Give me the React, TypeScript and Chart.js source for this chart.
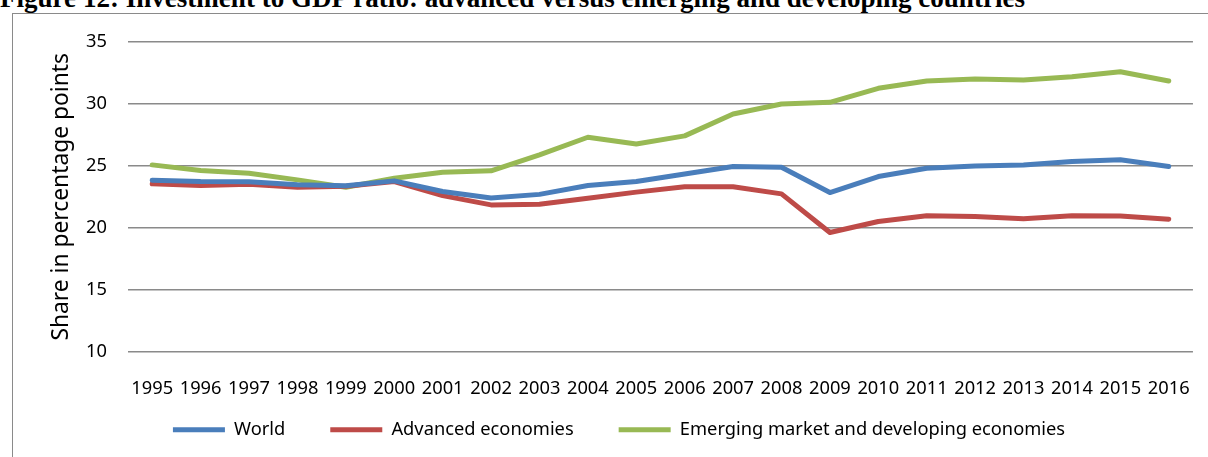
import React, { useEffect, useRef } from "react";
import { Chart, registerables } from "chart.js";

Chart.register(...registerables);

const years = [
  "1995", "1996", "1997", "1998", "1999", "2000", "2001", "2002", "2003", "2004", "2005",
  "2006", "2007", "2008", "2009", "2010", "2011", "2012", "2013", "2014", "2015", "2016",
];

const world = [
  23.85, 23.74, 23.72, 23.47, 23.4, 23.79, 22.93, 22.4, 22.7, 23.41, 23.74,
  24.35, 24.95, 24.89, 22.85, 24.14, 24.81, 25.0, 25.08, 25.35, 25.5, 24.95,
];

const advanced = [
  23.55, 23.41, 23.52, 23.28, 23.35, 23.74, 22.6, 21.85, 21.9, 22.39, 22.88,
  23.31, 23.31, 22.74, 19.62, 20.51, 20.97, 20.91, 20.73, 20.97, 20.95, 20.7,
];

const emerging = [
  25.08, 24.62, 24.41, 23.87, 23.28, 24.0, 24.49, 24.6, 25.89, 27.31, 26.77,
  27.42, 29.19, 30.0, 30.13, 31.26, 31.85, 32.02, 31.94, 32.2, 32.6, 31.85,
];

const seriesNames = ["World", "Advanced economies", "Emerging market and developing economies"];
const seriesColors = ["#4A7EBB", "#BE4B48", "#98B954"];

const yMin = 10;
const yMax = 35;
const yStep = 5;

const titleText = "Figure 12: Investment to GDP ratio: advanced versus emerging and developing countries";
const yAxisTitle = "Share in percentage points";

const PAD_LEFT = 45;
const Y_TITLE_SIZE = 22.8;

export default function App() {
  const canvasRef = useRef<HTMLCanvasElement | null>(null);

  useEffect(() => {
    if (!canvasRef.current) return;
    Chart.defaults.font.family = "'Noto Sans', sans-serif";
    const values = [world, advanced, emerging];
    const chart = new Chart(canvasRef.current, {
      type: "line",
      data: {
        labels: years,
        datasets: values.map((v, i) => ({
          label: seriesNames[i],
          data: v,
          borderColor: seriesColors[i],
          backgroundColor: seriesColors[i],
          borderWidth: 5,
          pointRadius: 0,
          pointHoverRadius: 0,
          tension: 0,
          fill: false,
          borderCapStyle: "round" as const,
          borderJoinStyle: "round" as const,
        })),
      },
      options: {
        responsive: false,
        devicePixelRatio: 1,
        animation: false,
        layout: { padding: { left: PAD_LEFT, right: 15, top: 42, bottom: 8 } },
        plugins: {
          tooltip: { enabled: false },
          legend: {
            position: "bottom",
            labels: {
              usePointStyle: true,
              pointStyle: "line",
              pointStyleWidth: 52,
              padding: 45,
              color: "#000",
              font: { size: 18.3 },
            },
          },
        },
        scales: {
          x: {
            type: "category",
            offset: true,
            grid: { display: false },
            border: { display: false },
            ticks: {
              color: "#000",
              font: { size: 18.3 },
              maxRotation: 0,
              minRotation: 0,
              autoSkip: false,
              padding: 18,
            },
            afterFit: (scale: any) => {
              scale.height = 24;
              // let the tick labels draw below the (shortened) axis box
              scale._computeLabelArea = () => undefined;
            },
          },
          y: {
            min: yMin,
            max: yMax,
            ticks: {
              stepSize: yStep,
              color: "#000",
              font: { size: 18.3 },
              padding: 21,
            },
            grid: { color: "#8a8a8a", lineWidth: 1.5, drawTicks: false },
            border: { display: false },
            title: {
              display: true,
              text: yAxisTitle,
              color: "#000",
              font: { size: Y_TITLE_SIZE },
              padding: { top: 62 - (Y_TITLE_SIZE * 1.2) / 2 - PAD_LEFT, bottom: 0 },
            },
            afterFit: (scale: any) => {
              scale.width = 128 - PAD_LEFT;
            },
          },
        },
      },
    });
    return () => chart.destroy();
  }, []);

  return (
    <div
      style={{
        position: "absolute",
        left: 0,
        top: 0,
        width: 1208,
        height: 457,
        overflow: "hidden",
        background: "#fff",
      }}
    >
      <div
        style={{
          position: "absolute",
          left: 0,
          top: -15.2,
          whiteSpace: "nowrap",
          fontFamily: "'Liberation Serif', 'Times New Roman', serif",
          fontWeight: "bold",
          fontSize: 27.05,
          lineHeight: 1,
          color: "#000",
        }}
      >
        {titleText}
      </div>
      <div
        style={{
          position: "absolute",
          left: 12,
          top: 12.5,
          width: 1300,
          height: 600,
          border: "1.5px solid #8a8a8a",
          boxSizing: "border-box",
        }}
      />
      <canvas
        ref={canvasRef}
        width={1208}
        height={457}
        style={{ position: "absolute", left: 0, top: 0, width: 1208, height: 457 }}
      />
    </div>
  );
}
